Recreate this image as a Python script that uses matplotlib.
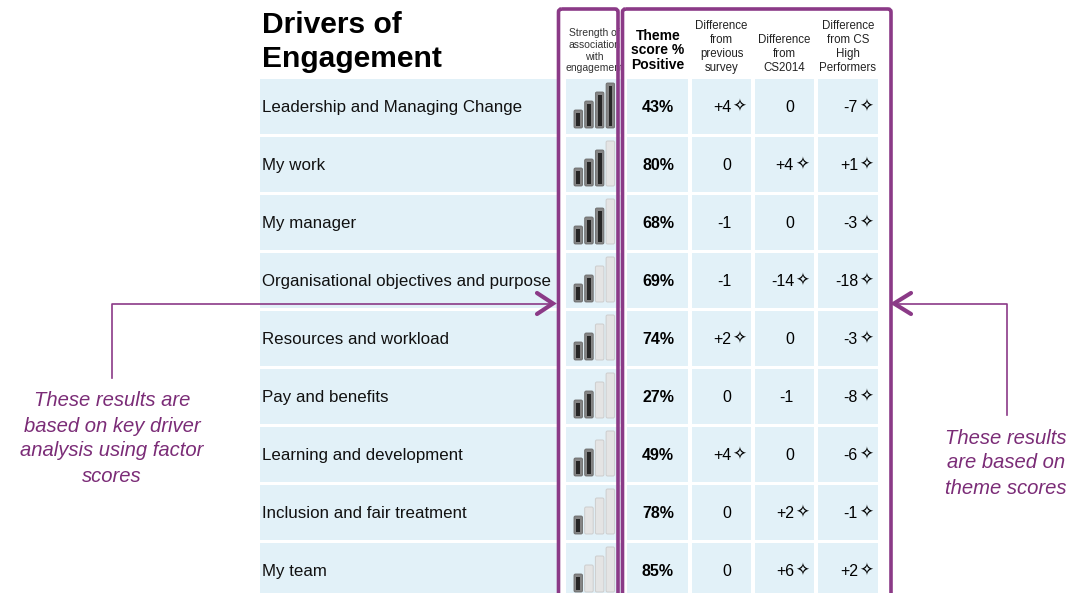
import matplotlib
matplotlib.use('Agg')
import matplotlib.pyplot as plt
from matplotlib.patches import Rectangle, FancyBboxPatch

# ---- data ----
drivers = ['Leadership and Managing Change', 'My work', 'My manager',
           'Organisational objectives and purpose', 'Resources and workload',
           'Pay and benefits', 'Learning and development',
           'Inclusion and fair treatment', 'My team']
strength = [4, 3, 3, 2, 2, 2, 2, 1, 1]   # lit bars out of 4
theme_score = [43, 80, 68, 69, 74, 27, 49, 78, 85]
diff_prev = [4, 0, -1, -1, 2, 0, 4, 0, 0]
diff_cs2014 = [0, 4, 0, -14, 0, -1, 0, 2, 6]
diff_high = [-7, 1, -3, -18, -3, -8, -6, -1, 2]
sig_prev = [1, 0, 0, 0, 1, 0, 1, 0, 0]     # star = significant
sig_cs2014 = [0, 1, 0, 1, 0, 0, 0, 1, 1]
sig_high = [1, 1, 1, 1, 1, 1, 1, 1, 1]

title_lines = ['Drivers of', 'Engagement']
strength_hdr = ['Strength of', 'association', 'with', 'engagement']
theme_hdr = ['Theme', 'score %', 'Positive']
diff_hdrs = [['Difference', 'from', 'previous', 'survey'],
             ['Difference', 'from', 'CS2014'],
             ['Difference', 'from CS', 'High', 'Performers']]
note_left = ['These results are', 'based on key driver', 'analysis using factor', 'scores']
note_right = ['These results', 'are based on', 'theme scores']

# ---- styling ----
FONT = 'Liberation Sans'
CELL = '#e2f1f8'
PURPLE = '#8b3a87'
NOTE = '#7b2c77'

fig = plt.figure(figsize=(10.9, 5.93), dpi=100)
ax = fig.add_axes([0, 0, 1, 1])
ax.set_xlim(0, 1090)
ax.set_ylim(593, 0)
ax.axis('off')

row_top0, row_step, row_h = 79, 58, 55
diff_cols = [(692, 751), (755, 814), (818, 878)]

def fmt(v):
    return '+%d' % v if v > 0 else '%d' % v

# title
for i, t in enumerate(title_lines):
    ax.text(262, 33 + 34 * i, t, fontsize=21.6, fontweight='bold', family=FONT,
            ha='left', va='baseline', color='black')

# headers (strength header runs under the box lines, as in the original)
for i, t in enumerate(strength_hdr):
    ax.text(594, 33.5 + 11.5 * i, t, fontsize=7.5, family=FONT, ha='center',
            va='center', color='#333333')
for i, t in enumerate(theme_hdr):
    ax.text(658, 36 + 14.5 * i, t, fontsize=10, fontweight='bold', family=FONT,
            ha='center', va='center', color='black')
for (x0, x1), hdr in zip(diff_cols, diff_hdrs):
    start = 68 - 14 * (len(hdr) - 1)
    for i, t in enumerate(hdr):
        ax.text((x0 + x1) / 2, start + 14 * i, t, fontsize=8.3, family=FONT,
                ha='center', va='center', color='#222222')

# rows
diffs = [(diff_prev, sig_prev), (diff_cs2014, sig_cs2014), (diff_high, sig_high)]
for r, name in enumerate(drivers):
    top = row_top0 + row_step * r
    cy = top + row_h / 2 + 1
    ax.add_patch(Rectangle((260, top), 300, row_h, color=CELL, lw=0, zorder=1))
    ax.text(262, cy, name, fontsize=12.2, family=FONT, ha='left', va='center',
            color='#111111', zorder=3)

    # strength icon
    ax.add_patch(Rectangle((566, top), 56, row_h, color=CELL, lw=0, zorder=1))
    base = top + 49
    for j in range(4):
        bx = 574 + j * 10.7
        bh = 18 + 9 * j
        if j < strength[r]:
            ax.add_patch(FancyBboxPatch((bx, base - bh), 8.5, bh,
                                        boxstyle='round,pad=0,rounding_size=1.5',
                                        fc='#858585', ec='#6a6a6a', lw=0.6, zorder=2))
            ax.add_patch(Rectangle((bx + 2.4, base - bh + 2.5), 3.7, bh - 5,
                                   color='#262626', lw=0, zorder=3))
        else:
            ax.add_patch(FancyBboxPatch((bx, base - bh), 8.5, bh,
                                        boxstyle='round,pad=0,rounding_size=1.5',
                                        fc='#e4e4e4', ec='#cdcdcd', lw=0.7, zorder=2))

    # theme score
    ax.add_patch(Rectangle((627, top), 61, row_h, color=CELL, lw=0, zorder=1))
    ax.text(658, cy, '%d%%' % theme_score[r], fontsize=11.5, fontweight='bold',
            family=FONT, ha='center', va='center', color='black', zorder=3)

    for (x0, x1), (vals, sig) in zip(diff_cols, diffs):
        ax.add_patch(Rectangle((x0, top), x1 - x0, row_h, color=CELL, lw=0, zorder=1))
        ax.text(x1 - 20, cy, fmt(vals[r]), fontsize=11.5, family=FONT,
                ha='right', va='center', color='black', zorder=3)
        if sig[r]:
            ax.text(x1 - 12, cy - 1, '\u2727', fontsize=12, family='DejaVu Sans',
                    ha='center', va='center', color='black', zorder=3)

# purple boxes
ax.add_patch(FancyBboxPatch((558.5, 9), 59.5, 620, boxstyle='round,pad=0,rounding_size=3',
                            fc='none', ec=PURPLE, lw=2.6, zorder=5))
ax.add_patch(FancyBboxPatch((622.5, 9), 268.5, 620, boxstyle='round,pad=0,rounding_size=3',
                            fc='none', ec=PURPLE, lw=2.6, zorder=5))

# left arrow and note
ax.plot([112, 112, 552], [378, 303.5, 303.5], color=PURPLE, lw=1.2, zorder=4)
ax.plot([537, 553, 537], [293, 303.5, 314], color=PURPLE, lw=3.0,
        solid_capstyle='round', solid_joinstyle='miter', zorder=6)
for i, t in enumerate(note_left):
    ax.text(112, 401 + 25 * i, t, fontsize=14.6, style='italic', family=FONT,
            ha='center', va='center', color=NOTE)

# right arrow and note
ax.plot([1007, 1007, 895], [415, 303.5, 303.5], color=PURPLE, lw=1.2, zorder=4)
ax.plot([911, 894, 911], [293, 303.5, 314], color=PURPLE, lw=3.0,
        solid_capstyle='round', solid_joinstyle='miter', zorder=6)
for i, t in enumerate(note_right):
    ax.text(1006, 438 + 25 * i, t, fontsize=14.6, style='italic', family=FONT,
            ha='center', va='center', color=NOTE)

fig.savefig('out.png', dpi=100)
